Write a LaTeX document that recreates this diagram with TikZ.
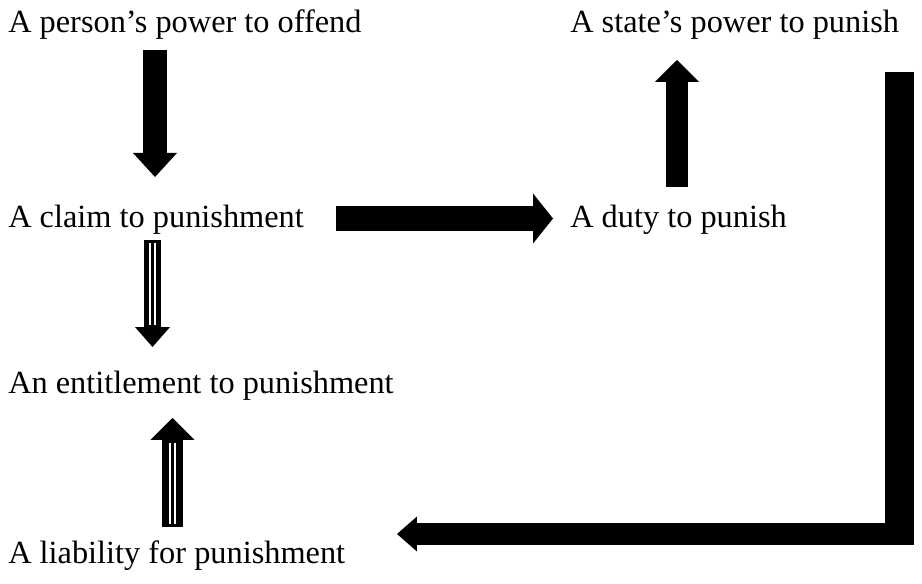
\documentclass[tikz,border=0pt]{standalone}
\usepackage{fontspec}
\setmainfont{Liberation Serif}
\usetikzlibrary{arrows.meta}
\begin{document}
\begin{tikzpicture}[x=0.025cm,y=-0.025cm,
		lbl/.style={anchor=base west,inner sep=0pt,font=\fontsize{23}{27}\selectfont},
		fat/.style n args={3}{draw=black,line width=#1,-{Triangle[length=#2,width=#3,line width=0pt]}},
		stripe/.style={draw=white,line width=1.1pt}]
	\useasboundingbox (0,0) rectangle (922,584);
	\node[lbl] (offend) at (8,33) {A person's power to offend};
	\node[lbl] (power) at (570,33) {A state's power to punish};
	\node[lbl] (claim) at (8,228) {A claim to punishment};
	\node[lbl] (duty) at (570,228) {A duty to punish};
	\node[lbl] (entitle) at (8,393) {An entitlement to punishment};
	\node[lbl] (liable) at (8,563) {A liability for punishment};
	\coordinate (a1) at (155,50);
	\coordinate (b1) at (155,177);
	\coordinate (a2) at (152.5,240);
	\coordinate (b2) at (152.5,347);
	\coordinate (a3) at (172.5,527);
	\coordinate (b3) at (172.5,418);
	\coordinate (a4) at (336,218.5);
	\coordinate (b4) at (553,218.5);
	\coordinate (a5) at (677,187);
	\coordinate (b5) at (677,60);
	\coordinate (a6) at (899.5,72);
	\coordinate (k6) at (899.5,545);
	\coordinate (m6) at (914,534);
	\coordinate (b6) at (397,534);
	\draw[fat={17.1pt}{17.1pt}{31.3pt}] (a1) -- (b1);
	\draw[fat={12.1pt}{14.2pt}{24.9pt}] (a2) -- (b2);
	\draw[stripe] ([xshift=-2.5*0.025cm,yshift=-3*0.025cm]a2) -- ([xshift=-2.5*0.025cm,yshift=22*0.025cm]b2);
	\draw[stripe] ([xshift=2.5*0.025cm,yshift=-3*0.025cm]a2) -- ([xshift=2.5*0.025cm,yshift=22*0.025cm]b2);
	\draw[fat={14.9pt}{15.6pt}{31.3pt}] (a3) -- (b3);
	\draw[stripe] ([xshift=-2.5*0.025cm,yshift=3*0.025cm]a3) -- ([xshift=-2.5*0.025cm,yshift=-25*0.025cm]b3);
	\draw[stripe] ([xshift=2.5*0.025cm,yshift=3*0.025cm]a3) -- ([xshift=2.5*0.025cm,yshift=-25*0.025cm]b3);
	\draw[fat={17.8pt}{14.2pt}{35.6pt}] (a4) -- (b4);
	\draw[fat={15.6pt}{15.6pt}{31.3pt}] (a5) -- (b5);
	\draw[line width=20.6pt] (a6) -- (k6);
	\draw[fat={15.6pt}{14.2pt}{24.9pt}] (m6) -- (b6);
\end{tikzpicture}
\end{document}
